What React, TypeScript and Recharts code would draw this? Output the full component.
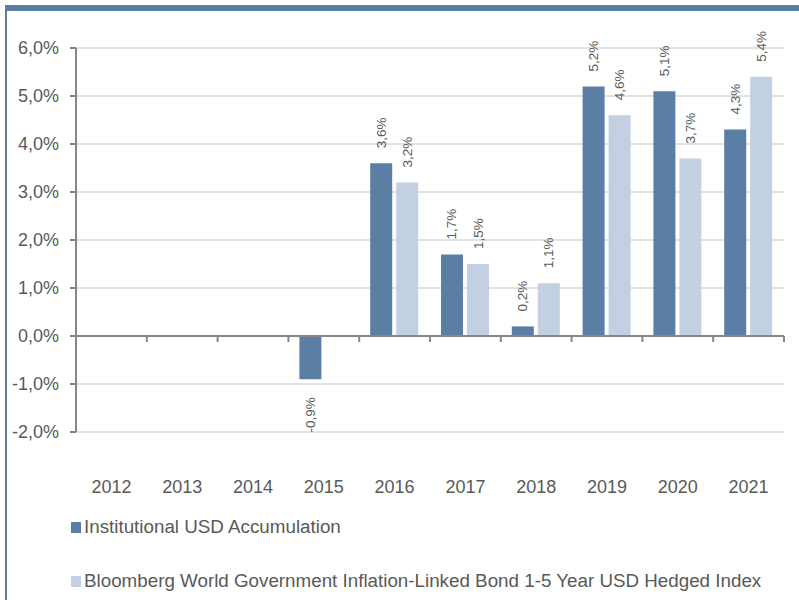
import { Bar, BarChart, CartesianGrid, LabelList, Legend, ReferenceLine, XAxis, YAxis } from 'recharts'

const years = ['2012', '2013', '2014', '2015', '2016', '2017', '2018', '2019', '2020', '2021']
const fundReturns = [null, null, null, -0.9, 3.6, 1.7, 0.2, 5.2, 5.1, 4.3]
const indexReturns = [null, null, null, null, 3.2, 1.5, 1.1, 4.6, 3.7, 5.4]
const yTicks = [-2, -1, 0, 1, 2, 3, 4, 5, 6]

const fundName = 'Institutional USD Accumulation'
const indexName = 'Bloomberg World Government Inflation-Linked Bond 1-5 Year USD Hedged Index'

const DARK = '#5b7fa4'
const LIGHT = '#c3d0e2'
const TEXT = '#595959'
const AXIS = '#868686'
const FONT = '"Liberation Sans", Arial, sans-serif'

const data = years.map((year, i) => ({ year, fund: fundReturns[i], index: indexReturns[i] }))

const pct = (v: number) => v.toFixed(1).replace('.', ',') + '%'

function BarLabel(props: any) {
  const { x, y, width, height, value } = props
  if (value === null || value === undefined) return null
  const cx = x + width / 2
  const top = Math.min(y, y + height)
  const bottom = Math.max(y, y + height)
  const neg = value < 0
  const ay = neg ? bottom + 18 : top - 15
  return (
    <text
      x={cx}
      y={ay}
      transform={`rotate(-90 ${cx} ${ay})`}
      textAnchor={neg ? 'end' : 'start'}
      dominantBaseline="central"
      fontSize={13.5}
      fontFamily={FONT}
      fill={TEXT}
    >
      {pct(value)}
    </text>
  )
}

function CatTick(props: any) {
  const { x1, y1 } = props
  return <line x1={x1} y1={y1} x2={x1} y2={y1 + 6} stroke={AXIS} strokeWidth={2} />
}

function LegendRows() {
  const row = (color: string, label: string, mb: number) => (
    <div style={{ display: 'flex', alignItems: 'center', height: 22, marginBottom: mb }}>
      <span style={{ display: 'inline-block', width: 10, height: 11, background: color, marginRight: 3 }} />
      <span style={{ fontFamily: FONT, fontSize: 18.8, color: TEXT, whiteSpace: 'nowrap' }}>{label}</span>
    </div>
  )
  return (
    <div style={{ height: 84, paddingLeft: 71, boxSizing: 'border-box' }}>
      {row(DARK, fundName, 32)}
      {row(LIGHT, indexName, 0)}
    </div>
  )
}

export default function App() {
  return (
    <div style={{ position: 'absolute', left: 0, top: 0, width: 799, height: 600, background: '#fff' }}>
      <BarChart
        width={799}
        height={600}
        data={data}
        margin={{ top: 48, right: 15, left: 0, bottom: 0 }}
        barSize={22}
        barGap={4}
      >
        <CartesianGrid vertical={false} stroke="#d9d9d9" strokeWidth={1.5} />
        <XAxis
          dataKey="year"
          axisLine={false}
          tickLine={false}
          height={84}
          tickMargin={42}
          tick={{ fill: TEXT, fontSize: 18, fontFamily: FONT }}
          interval={0}
        />
        <YAxis
          domain={[-2, 6]}
          ticks={yTicks}
          width={76}
          tickFormatter={pct}
          tick={{ fill: TEXT, fontSize: 18, fontFamily: FONT }}
          tickMargin={11}
          axisLine={{ stroke: AXIS, strokeWidth: 2 }}
          tickLine={{ stroke: AXIS, strokeWidth: 2 }}
          allowDataOverflow
        />
        <Legend verticalAlign="bottom" align="left" layout="horizontal" content={() => <LegendRows />} />
        <Bar dataKey="fund" name={fundName} fill={DARK} isAnimationActive={false}>
          <LabelList dataKey="fund" content={<BarLabel />} />
        </Bar>
        <Bar dataKey="index" name={indexName} fill={LIGHT} isAnimationActive={false}>
          <LabelList dataKey="index" content={<BarLabel />} />
        </Bar>
        <ReferenceLine y={0} stroke={AXIS} strokeWidth={2} />
        {years.slice(1).map((c) => (
          <ReferenceLine
            key={c}
            segment={[{ x: c, y: 0 }, { x: c, y: 0 }]}
            position="start"
            ifOverflow="visible"
            shape={<CatTick />}
          />
        ))}
        <ReferenceLine
          segment={[{ x: years[years.length - 1], y: 0 }, { x: years[years.length - 1], y: 0 }]}
          position="end"
          ifOverflow="visible"
          shape={<CatTick />}
        />
      </BarChart>
      <div style={{ position: 'absolute', left: 5, top: 5, width: 794, height: 6, background: DARK }} />
      <div style={{ position: 'absolute', left: 5, top: 5, width: 2, height: 595, background: DARK }} />
    </div>
  )
}
